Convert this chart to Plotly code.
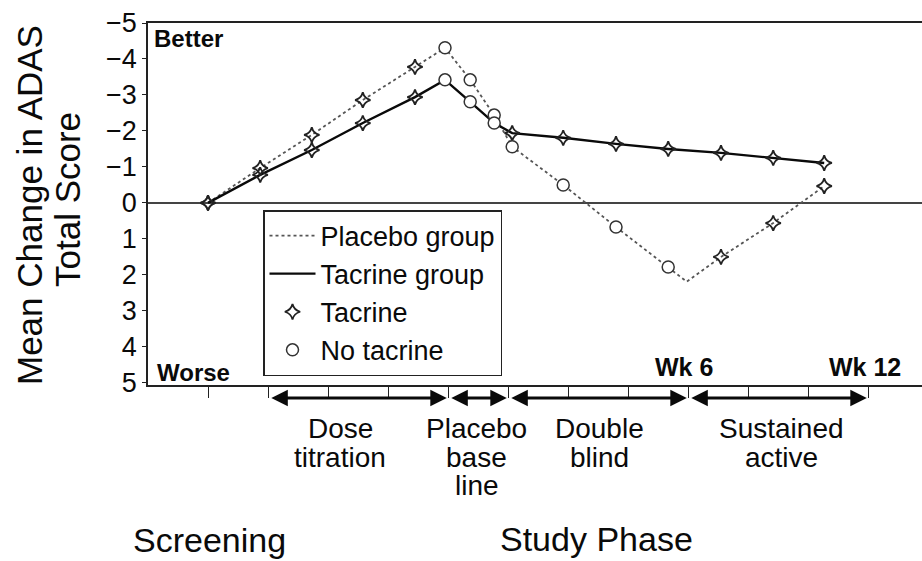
import plotly.graph_objects as go

# Visit positions on the study-phase axis (one unit = one tick interval)
placebo_x = [0, 0.87, 1.73, 2.58, 3.45, 3.95, 4.37, 4.77, 5.07, 5.92, 6.8, 7.67, 7.98, 8.55, 9.42, 10.27]
placebo_y = [0, -0.97, -1.89, -2.86, -3.78, -4.31, -3.42, -2.44, -1.56, -0.5, 0.67, 1.78, 2.19, 1.5, 0.56, -0.47]
placebo_kind = ["T", "T", "T", "T", "T", "N", "N", "N", "N", "N", "N", "N", "", "T", "T", "T"]

tacrine_x = [0, 0.87, 1.73, 2.58, 3.45, 3.95, 4.37, 4.77, 5.07, 5.92, 6.8, 7.67, 8.55, 9.42, 10.27]
tacrine_y = [0, -0.78, -1.47, -2.22, -2.94, -3.42, -2.81, -2.22, -1.94, -1.81, -1.64, -1.5, -1.39, -1.25, -1.11]
tacrine_kind = ["T", "T", "T", "T", "T", "N", "N", "N", "T", "T", "T", "T", "T", "T", "T"]

y_ticks = [-5, -4, -3, -2, -1, 0, 1, 2, 3, 4, 5]
y_tick_text = [("\u2212" + str(-v)) if v < 0 else str(v) for v in y_ticks]
x_ticks = list(range(12))

# Study phases: (start, end, label lines)
phases = [
    (1, 4, ["Dose", "titration"]),
    (4, 5, ["Placebo", "base", "line"]),
    (5, 8, ["Double", "blind"]),
    (8, 11, ["Sustained", "active"]),
]
phase_label_x = [2.2, 4.48, 6.53, 9.55]

FONT = "Liberation Sans, Arial, Helvetica, sans-serif"
INK = "#0a0a0a"

fig = go.Figure()

fig.add_trace(go.Scatter(
    x=placebo_x, y=placebo_y, mode="lines", name="Placebo group",
    line=dict(color="#555555", width=1.8, dash="dot"),
))
fig.add_trace(go.Scatter(
    x=tacrine_x, y=tacrine_y, mode="lines", name="Tacrine group",
    line=dict(color=INK, width=2.4),
))

# Split visits by whether the patient was on tacrine at that point
on_x, on_y, off_x, off_y = [], [], [], []
for xs, ys, ks in ((placebo_x, placebo_y, placebo_kind), (tacrine_x, tacrine_y, tacrine_kind)):
    for xv, yv, k in zip(xs, ys, ks):
        if k == "T":
            on_x.append(xv); on_y.append(yv)
        elif k == "N":
            off_x.append(xv); off_y.append(yv)

fig.add_trace(go.Scatter(
    x=on_x, y=on_y, mode="markers", name="Tacrine",
    marker=dict(symbol="star-diamond-open", size=11, color="#222222", line=dict(width=1.8, color="#222222")),
))
fig.add_trace(go.Scatter(
    x=off_x, y=off_y, mode="markers", name="No tacrine",
    marker=dict(symbol="circle", size=12, color="white", line=dict(width=1.5, color="#333333")),
))

annotations = []

# Corner labels inside the plot
annotations.append(dict(text="<b>Better</b>", xref="paper", yref="paper", x=0.005, y=0.957,
                        xanchor="left", yanchor="middle", showarrow=False,
                        font=dict(size=24, family=FONT, color=INK)))
annotations.append(dict(text="<b>Worse</b>", xref="paper", yref="paper", x=0.009, y=0.0345,
                        xanchor="left", yanchor="middle", showarrow=False,
                        font=dict(size=24, family=FONT, color=INK)))
for xv, txt in ((7.93, "Wk 6"), (10.95, "Wk 12")):
    annotations.append(dict(text="<b>" + txt + "</b>", xref="x", yref="paper", x=xv, y=0.05,
                            xanchor="center", yanchor="middle", showarrow=False,
                            font=dict(size=25, family=FONT, color=INK)))

# Double-headed phase arrows below the axis
for start, end, lines in phases:
    annotations.append(dict(text="", xref="x", yref="paper", x=end - 0.02, y=-0.036,
                            axref="x", ayref="pixel", ax=start + 0.03, ay=0,
                            showarrow=True, arrowside="end+start", arrowhead=2,
                            arrowsize=1.1, arrowwidth=3, arrowcolor=INK, standoff=0, startstandoff=0))

# Phase labels, one annotation per line
line_px = [428, 457, 485]
for (start, end, lines), lx in zip(phases, phase_label_x):
    for i, ln in enumerate(lines):
        annotations.append(dict(text=ln, xref="x", yref="paper", x=lx, y=(385 - line_px[i]) / 362,
                                xanchor="center", yanchor="middle", showarrow=False,
                                font=dict(size=28, family=FONT, color=INK)))

annotations.append(dict(text="Screening", xref="x", yref="paper", x=0.03, y=(385 - 540) / 362,
                        xanchor="center", yanchor="middle", showarrow=False,
                        font=dict(size=34, family=FONT, color=INK)))
annotations.append(dict(text="Study Phase", xref="x", yref="paper", x=6.47, y=(385 - 539) / 362,
                        xanchor="center", yanchor="middle", showarrow=False,
                        font=dict(size=34, family=FONT, color=INK)))

# Two-line rotated y-axis title
for txt, shift, yc in (("Mean Change in ADAS", -118, 205), ("Total Score", -81, 200)):
    annotations.append(dict(text=txt, xref="paper", yref="paper", x=0, xshift=shift,
                            y=(385 - yc) / 362, xanchor="center", yanchor="middle",
                            textangle=-90, showarrow=False,
                            font=dict(size=35, family=FONT, color=INK)))

fig.update_layout(
    width=922, height=561,
    margin=dict(l=148, r=0, t=23, b=176),
    paper_bgcolor="white", plot_bgcolor="white",
    font=dict(family=FONT, color=INK),
    showlegend=True,
    legend=dict(
        x=(263 - 148) / 774, y=(385 - 210) / 362, xanchor="left", yanchor="top",
        bgcolor="white", bordercolor="#222222", borderwidth=1.5,
        font=dict(size=27, family=FONT, color=INK),
        itemwidth=46, tracegroupgap=0,
    ),
    xaxis=dict(
        range=[-1, 11.9], showgrid=False, zeroline=False,
        showline=True, mirror=True, linecolor="#222222", linewidth=1.5,
        tickmode="array", tickvals=x_ticks, ticks="outside", ticklen=11,
        tickwidth=1.2, tickcolor="#222222", showticklabels=False,
    ),
    yaxis=dict(
        range=[5.06, -5.0], showgrid=False,
        zeroline=True, zerolinecolor="#444444", zerolinewidth=1.5,
        showline=True, linecolor="#222222", linewidth=1.5,
        tickmode="array", tickvals=y_ticks, ticktext=y_tick_text,
        ticks="outside", ticklen=4, tickcolor="#222222",
        tickfont=dict(size=27, family=FONT, color=INK),
    ),
    annotations=annotations,
)

fig.write_html("out.html")
